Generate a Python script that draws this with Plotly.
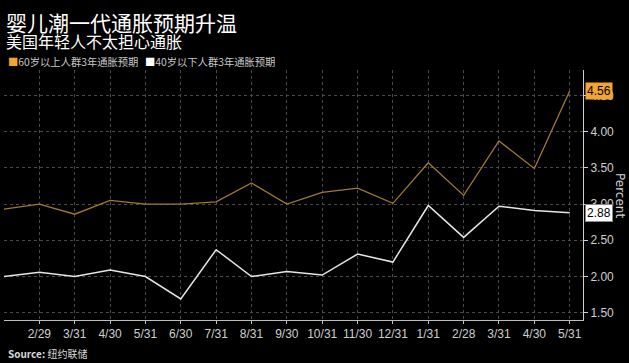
import plotly.graph_objects as go

months = ["1/31", "2/29", "3/31", "4/30", "5/31", "6/30", "7/31", "8/31", "9/30",
          "10/31", "11/30", "12/31", "1/31", "2/28", "3/31", "4/30", "5/31"]
over60 = [2.93, 3.00, 2.86, 3.05, 3.00, 3.00, 3.03, 3.29, 3.00,
          3.16, 3.22, 3.01, 3.57, 3.12, 3.87, 3.49, 4.56]
under40 = [2.00, 2.06, 2.00, 2.09, 2.00, 1.69, 2.37, 2.00, 2.07,
           2.02, 2.31, 2.20, 2.98, 2.54, 2.97, 2.91, 2.88]
y_ticks = [1.5, 2.0, 2.5, 3.0, 3.5, 4.0, 4.5]

name60 = "60岁以上人群3年通胀预期"
name40 = "40岁以下人群3年通胀预期"
title = "婴儿潮一代通胀预期升温"
subtitle = "美国年轻人不太担心通胀"

ORANGE = "#a27a33"
ORANGE_TAG = "#f3a532"
WHITE = "#e6e6e6"
FONT = "Noto Sans CJK SC"
NUMFONT = "Liberation Sans"

x = list(range(len(months)))

fig = go.Figure()
fig.add_trace(go.Scatter(x=x, y=over60, mode="lines", name=name60,
                         line=dict(color=ORANGE, width=1.3)))
fig.add_trace(go.Scatter(x=x, y=under40, mode="lines", name=name40,
                         line=dict(color=WHITE, width=1.5)))

fig.update_layout(
    width=629, height=363,
    margin=dict(l=4, r=46, t=70, b=43),
    paper_bgcolor="#000000", plot_bgcolor="#000000",
    showlegend=False,
    font=dict(family=FONT, color="#d0d0d0", size=11),
)
fig.update_xaxes(
    range=[0, 16.376],
    tickmode="array", tickvals=x[1:], ticktext=months[1:], tickangle=0,
    showgrid=True, gridcolor="#4a4a4a", griddash="dot", gridwidth=1,
    showline=True, linecolor="#bdbdbd", linewidth=1,
    ticks="outside", ticklen=3, tickcolor="#bdbdbd",
    tickfont=dict(size=12, color="#cfcfcf", family=NUMFONT),
    zeroline=False,
)
fig.update_yaxes(
    side="right", range=[1.40, 4.85],
    tickmode="array", tickvals=y_ticks, tickformat=".2f",
    showgrid=True, gridcolor="#4a4a4a", griddash="dot", gridwidth=1,
    showline=True, linecolor="#d0d0d0", linewidth=1,
    ticks="outside", ticklen=4, tickcolor="#d0d0d0",
    tickfont=dict(size=12, color="#cfcfcf", family=NUMFONT),
    zeroline=False,
)

# Title / subtitle
fig.add_annotation(xref="paper", yref="paper", x=0, xshift=0, y=1, yshift=48,
                   xanchor="left", yanchor="middle", showarrow=False,
                   text=title, font=dict(size=21, color="#ffffff", family=FONT))
fig.add_annotation(xref="paper", yref="paper", x=0, xshift=0, y=1, yshift=29,
                   xanchor="left", yanchor="middle", showarrow=False,
                   text=subtitle, font=dict(size=16, color="#ffffff", family=FONT))

# Legend
fig.add_annotation(xref="paper", yref="paper", x=0.0, xshift=2, y=1, yshift=9,
                   xanchor="left", yanchor="middle", showarrow=False,
                   text=f"<span style='color:{ORANGE_TAG}'>■</span>{name60}",
                   font=dict(size=10.3, color="#c8c8c8", family=FONT))
fig.add_annotation(xref="paper", yref="paper", x=(143 - 4.3) / 579, y=1, yshift=9,
                   xanchor="left", yanchor="middle", showarrow=False,
                   text=f"<span style='color:#ffffff'>■</span>{name40}",
                   font=dict(size=10.3, color="#c8c8c8", family=FONT))

# Y axis title
fig.add_annotation(xref="paper", yref="paper", x=1, xshift=37, y=0.5, yshift=0,
                   xanchor="center", yanchor="middle", showarrow=False, textangle=90,
                   text="Percent", font=dict(size=12, color="#d0d0d0", family="DejaVu Sans"))

# Last value tags
fig.add_annotation(xref="paper", yref="y", x=1, xshift=2, y=over60[-1],
                   xanchor="left", yanchor="middle", showarrow=False,
                   text=f"{over60[-1]:.2f}", bgcolor=ORANGE_TAG, borderpad=1,
                   font=dict(size=12, color="#000000", family=NUMFONT))
fig.add_annotation(xref="paper", yref="y", x=1, xshift=2, y=under40[-1],
                   xanchor="left", yanchor="middle", showarrow=False,
                   text=f"{under40[-1]:.2f}", bgcolor="#ffffff", borderpad=1,
                   bordercolor="#888888", borderwidth=1,
                   font=dict(size=12, color="#000000", family=NUMFONT))

# Source
fig.add_annotation(xref="paper", yref="paper", x=0, xshift=2, y=0, yshift=-33,
                   xanchor="left", yanchor="middle", showarrow=False,
                   text="<b>Source:</b> 纽约联储",
                   font=dict(size=10, color="#d8d8d8", family=FONT))

fig.write_html("out.html", config={"displayModeBar": False},
               post_script="document.body.style.margin='0';")
